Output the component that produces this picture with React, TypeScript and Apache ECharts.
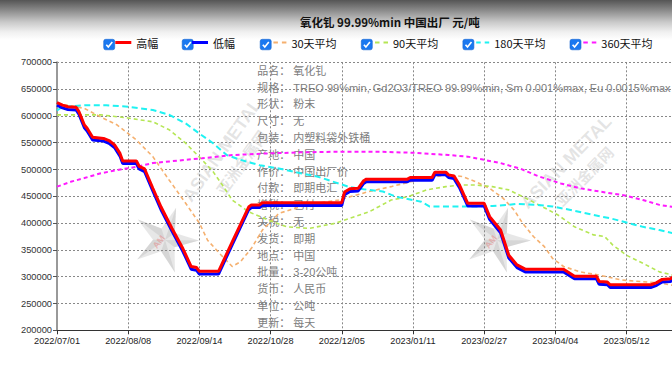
import React, { useEffect, useRef } from 'react';
import * as echarts from 'echarts';

// ---- data (x = trading-day index, labels every 26 trading days) ----
const xTickLabels = [
  '2022/07/01', '2022/08/08', '2022/09/14', '2022/10/28', '2022/12/05',
  '2023/01/11', '2023/02/27', '2023/04/04', '2023/05/12',
];
const xLabelStep = 26;
const xLastIndex = 224.6;

const seriesNames = ['高幅', '低幅', '30天平均', '90天平均', '180天平均', '360天平均'];
const seriesColors = ['#ff0000', '#0000ff', '#f5b06f', '#b5e655', '#1ff2f2', '#ff1aff'];

const high: [number, number][] = [
  [0, 625000], [2, 620000], [4, 617000], [7, 616000], [8, 608000], [10, 583000], [11, 577000],
  [13, 560000], [17, 558000], [19, 554000], [21, 546000], [23, 530000], [24, 516000], [29, 516000],
  [30, 506000], [32, 501000], [35, 465000], [38, 430000], [42, 390000], [46, 352000], [49, 319000],
  [51, 317000], [52, 310000], [59, 310000], [64, 365000], [70, 430000], [71, 434000], [74, 434000],
  [75, 438000], [104, 438000], [105, 458000], [107, 464000], [110, 465000], [112, 479000],
  [113, 482000], [128, 482000], [129, 485000], [137, 485000], [138, 495000], [142, 495000],
  [143, 490000], [145, 488000], [147, 471000], [150, 437000], [156, 437000], [158, 412000],
  [162, 387000], [165, 340000], [168, 322000], [171, 314000], [185, 314000], [189, 301000],
  [197, 301000], [198, 291000], [201, 290000], [202, 285000], [217, 285000], [219, 289000],
  [221, 295000], [224, 296000], [225, 300000],
];
const low: [number, number][] = [
  [0, 620000], [2, 615000], [4, 612000], [7, 611000], [8, 603000], [10, 578000], [11, 572000],
  [13, 555000], [17, 553000], [19, 549000], [21, 541000], [23, 525000], [24, 511000], [29, 511000],
  [30, 501000], [32, 496000], [35, 460000], [38, 425000], [42, 385000], [46, 347000], [49, 314000],
  [51, 312000], [52, 305000], [59, 305000], [64, 360000], [70, 425000], [71, 429000], [74, 429000],
  [75, 433000], [104, 433000], [105, 453000], [107, 459000], [110, 460000], [112, 474000],
  [113, 477000], [128, 477000], [129, 480000], [137, 480000], [138, 490000], [142, 490000],
  [143, 485000], [145, 483000], [147, 466000], [150, 432000], [156, 432000], [158, 407000],
  [162, 382000], [165, 335000], [168, 317000], [171, 309000], [185, 309000], [189, 296000],
  [197, 296000], [198, 286000], [201, 285000], [202, 280000], [217, 280000], [219, 284000],
  [221, 290000], [224, 291000], [225, 295000],
];
const ma30: [number, number][] = [
  [0, 622000], [4, 620000], [10, 614000], [16, 598000], [22, 583000], [29, 555000], [35, 524000],
  [41, 480000], [47, 437000], [52, 400000], [55, 368000], [60, 340000], [64, 319000], [67, 328000],
  [71, 353000], [75, 387000], [81, 418000], [91, 434000], [103, 443000], [107, 449000],
  [114, 459000], [122, 468000], [129, 477000], [136, 484000], [142, 490000], [148, 487000],
  [153, 477000], [158, 465000], [163, 446000], [167, 424000], [170, 400000], [174, 375000],
  [178, 356000], [181, 334000], [185, 319000], [191, 309000], [198, 303000], [206, 294000],
  [213, 291000], [219, 289000], [225, 284000],
];
const ma90: [number, number][] = [
  [0, 602000], [16, 602000], [26, 596000], [35, 589000], [41, 574000], [47, 549000], [53, 518000],
  [57, 496000], [60, 474000], [64, 443000], [70, 421000], [77, 406000], [84, 393000], [92, 390000],
  [101, 399000], [107, 409000], [114, 421000], [122, 443000], [128, 449000], [135, 462000],
  [142, 468000], [147, 471000], [153, 471000], [159, 468000], [165, 462000], [169, 452000],
  [176, 434000], [183, 415000], [189, 393000], [196, 378000], [200, 375000], [203, 359000],
  [208, 340000], [214, 325000], [220, 309000], [225, 303000],
];
const ma180: [number, number][] = [
  [0, 610000], [2, 617000], [10, 620000], [18, 620000], [26, 617000], [35, 611000], [41, 602000],
  [47, 586000], [52, 567000], [57, 549000], [62, 527000], [67, 518000], [74, 508000], [81, 502000],
  [89, 493000], [95, 487000], [101, 477000], [107, 467000], [112, 463000], [119, 459000],
  [124, 449000], [133, 440000], [136, 431000], [143, 431000], [153, 431000], [159, 432000],
  [165, 434000], [168, 436000], [175, 434000], [181, 431000], [189, 423000], [196, 415000],
  [202, 409000], [208, 401000], [214, 393000], [220, 387000], [225, 381000],
];
const ma360: [number, number][] = [
  [0, 468000], [5, 477000], [10, 484000], [16, 493000], [22, 499000], [29, 505000], [35, 512000],
  [41, 515000], [47, 518000], [53, 521000], [64, 527000], [77, 530000], [89, 532000], [101, 533000],
  [119, 533000], [131, 531000], [143, 527000], [150, 524000], [156, 518000], [162, 512000],
  [166, 506000], [169, 502000], [176, 487000], [184, 474000], [191, 465000], [198, 459000],
  [208, 451000], [214, 443000], [220, 434000], [225, 430000],
];

const infoLabels = ['品名：', '规格：', '形状：', '尺寸：', '包装：', '产地：', '作价：', '付款：',
  '增税：', '关税：', '发货：', '地点：', '批量：', '货币：', '单位：', '更新：'];
const infoValues = ['氧化钆', 'TREO 99%min, Gd2O3/TREO 99.99%min, Sm 0.001%max, Eu 0.0015%max',
  '粉末', '无', '内塑料袋外铁桶', '中国', '中国出厂价', '即期电汇', '已付', '无', '即期', '中国',
  '3-20公吨', '人民币', '公吨', '每天'];

const titleText = '氧化钆 99.99%min 中国出厂 元/吨';

const CJK = "'Noto Sans CJK SC', 'Noto Sans', sans-serif";
const LAT = "'Liberation Sans', Arial, sans-serif";
const MIX = "'Liberation Sans', 'Noto Sans CJK SC', sans-serif";

// legend layout (text start positions) and checkbox positions
const legendTextX = [136.3, 213, 291.4, 393, 494.2, 601.3];
const checkboxX = [103.7, 182.2, 260.2, 361.3, 462.9, 570];

export default function App() {
  const ref = useRef<HTMLDivElement>(null);
  useEffect(() => {
    if (!ref.current) return;
    const chart = echarts.init(ref.current, null, { renderer: 'svg' });

    const lineData = [high, low, ma30, ma90, ma180, ma360];
    const widths = [3, 3, 1.6, 1.6, 2, 2];
    const dashes: any[] = ['solid', 'solid', [4, 3], [4, 3], [6, 3.5], [4, 3]];

    const series = seriesNames.map((name, i) => ({
      name,
      type: 'line',
      data: lineData[i],
      symbol: 'none',
      showSymbol: false,
      z: i === 0 ? 4 : i === 1 ? 3 : 2,
      lineStyle: { color: seriesColors[i], width: widths[i], type: dashes[i] },
      itemStyle: { color: seriesColors[i] },
      emphasis: { disabled: true },
    }));

    const solidIcon = 'path://M0,0h16v3h-16z';
    const dashIcon = 'path://M0,0h4.5v2h-4.5z M8.5,0h4.5v2h-4.5z';
    const legends = seriesNames.map((name, i) => {
      const solid = i < 2;
      const w = solid ? 16 : 13;
      return {
        data: [{ name, icon: solid ? solidIcon : dashIcon }],
        left: legendTextX[i] - w - 5,
        top: 37,
        padding: 0,
        itemWidth: w,
        itemHeight: solid ? 3 : 2,
        selectedMode: false,
        itemStyle: { borderWidth: 0 },
        textStyle: { fontSize: 11, color: '#111', fontFamily: CJK },
      };
    });

    const graphics: any[] = [
      {
        type: 'rect',
        shape: { x: 0, y: 0, width: 672, height: 40 },
        style: {
          fill: new echarts.graphic.LinearGradient(0, 0, 0, 1, [
            { offset: 0, color: '#555555' },
            { offset: 0.25, color: '#898989' },
            { offset: 0.55, color: '#c9c9c9' },
            { offset: 0.8, color: '#f0f0f0' },
            { offset: 1, color: '#ffffff' },
          ]),
        },
        z: -10,
        silent: true,
      },
    ];
    const cbTop = 39.3;
    checkboxX.forEach((x) => {
      graphics.push({
        type: 'group',
        children: [
          { type: 'rect', shape: { x, y: cbTop, width: 11, height: 10.5, r: 2 }, style: { fill: '#1a78f0', stroke: '#1766d0', lineWidth: 0.6 } },
          { type: 'polyline', shape: { points: [[x + 2.6, cbTop + 5.4], [x + 4.6, cbTop + 7.8], [x + 8.6, cbTop + 2.8]] }, style: { stroke: '#ffffff', lineWidth: 1.6, fill: null } },
        ],
      });
    });

    infoLabels.forEach((lab, k) => {
      const y = 70.7 + k * 16.8;
      graphics.push({ type: 'text', x: 257.3, y, silent: true, style: { text: lab, fill: '#7d7d7d', fontSize: 11, fontFamily: MIX, verticalAlign: 'middle' } });
      graphics.push({ type: 'text', x: 293.3, y, silent: true, style: { text: infoValues[k], fill: '#7d7d7d', fontSize: 11, fontFamily: MIX, verticalAlign: 'middle' } });
    });

    // watermarks (5-pointed star logo + diagonal brand text)
    const wm = (cx: number, cy: number, sx: number, sy: number, rot: number) => {
      const outer: number[][] = [];
      const n = 5;
      const a0 = (-143 * Math.PI) / 180;
      for (let k = 0; k < n * 2; k++) {
        const a = a0 + (k * Math.PI) / n;
        const r = k % 2 === 0 ? 34 : 12;
        outer.push([cx + r * Math.cos(a), cy + r * Math.sin(a)]);
      }
      graphics.push({ type: 'polygon', shape: { points: outer }, style: { fill: 'rgba(175,175,175,0.3)' }, silent: true });
      // darker shaded half of each point
      for (let k = 0; k < n; k++) {
        const a = a0 + (2 * k * Math.PI) / n;
        const ai = a + Math.PI / n;
        graphics.push({
          type: 'polygon', silent: true,
          shape: { points: [[cx, cy], [cx + 34 * Math.cos(a), cy + 34 * Math.sin(a)], [cx + 12 * Math.cos(ai), cy + 12 * Math.sin(ai)]] },
          style: { fill: 'rgba(140,140,140,0.18)' },
        });
      }
      graphics.push({ type: 'text', x: cx - 6, y: cy + 2, rotation: 0.9, silent: true, style: { text: 'AM', fill: 'rgba(235,110,110,0.4)', fontSize: 9, fontWeight: 'bold', fontFamily: LAT, align: 'center', verticalAlign: 'middle' } });
      graphics.push({ type: 'text', x: sx, y: sy, rotation: rot, silent: true, style: { text: 'ASIAN METAL', fill: 'rgba(150,150,150,0.26)', fontSize: 18, fontWeight: 'bold', fontFamily: LAT, align: 'center', verticalAlign: 'middle' } });
      graphics.push({ type: 'text', x: sx + 14 * Math.sin(rot) + 8, y: sy + 14 * Math.cos(rot) + 4, rotation: rot, silent: true, style: { text: '亚洲金属网', fill: 'rgba(150,150,150,0.26)', fontSize: 15, fontWeight: 'bold', fontFamily: CJK, align: 'center', verticalAlign: 'middle' } });
    };
    wm(165, 240, 222, 150, 0.95);
    wm(497, 240, 566, 162, 0.8);

    chart.setOption({
      animation: false,
      backgroundColor: '#ffffff',
      title: {
        text: titleText,
        left: 300,
        top: 16,
        padding: 0,
        textStyle: { fontSize: 11.5, fontWeight: 'bold', color: '#111', fontFamily: CJK },
      },
      legend: legends,
      tooltip: { show: false },
      grid: { left: 57, right: 0, top: 62.3, bottom: 38.7, outerBoundsMode: 'none', containLabel: false } as any,
      graphic: graphics,
      xAxis: {
        type: 'value',
        min: 0,
        max: xLastIndex,
        interval: xLabelStep,
        axisLine: { show: true, lineStyle: { color: '#333', width: 1 } },
        axisTick: { show: true, length: 4, lineStyle: { color: '#333' } },
        axisLabel: {
          show: true,
          margin: 6,
          fontSize: 9.2,
          color: '#222',
          fontFamily: LAT,
          showMaxLabel: false,
          formatter: (v: number) => {
            const k = Math.round(v / xLabelStep);
            return Math.abs(v - k * xLabelStep) < 0.01 && xTickLabels[k] ? xTickLabels[k] : '';
          },
        },
        splitLine: { show: true, lineStyle: { color: '#888', type: [2, 2], width: 1 } },
      },
      yAxis: {
        type: 'value',
        min: 200000,
        max: 700000,
        interval: 50000,
        axisLine: { show: true, lineStyle: { color: '#999', width: 2 } },
        axisTick: { show: true, length: 4, lineStyle: { color: '#555' } },
        axisLabel: {
          show: true, margin: 5, fontSize: 9.3, color: '#333', fontFamily: LAT,
          formatter: (v: number) => String(v),
        },
        splitLine: { show: true, lineStyle: { color: '#888', type: [2, 2], width: 1 } },
      },
      series,
    } as any);

    return () => chart.dispose();
  }, []);

  return (
    <>
      <style>{'html,body{margin:0;padding:0;overflow:hidden;}'}</style>
      <div ref={ref} style={{ width: 672, height: 369, background: '#fff' }} />
    </>
  );
}
